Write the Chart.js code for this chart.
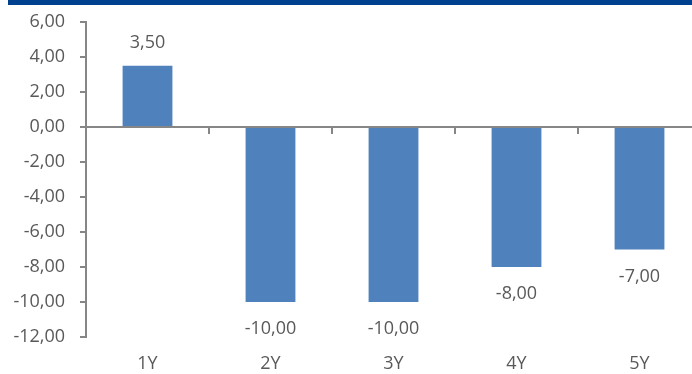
<!DOCTYPE html>
<html>
<head>
<meta charset="utf-8">
<script src="https://cdn.jsdelivr.net/npm/chart.js@4.4.0/dist/chart.umd.min.js"></script>
<style>
  html, body { margin: 0; padding: 0; background: #fff; overflow: hidden; }
  body { width: 692px; height: 374px; position: relative; }
  #wrap { position: absolute; left: 0; top: 0; width: 702px; height: 374px; }
  #banner { position: absolute; left: 8px; top: 0; width: 684px; height: 5px; background: #00418f; z-index: 2; }
</style>
</head>
<body>
<div id="banner"></div>
<div id="wrap"><canvas id="barChart"></canvas></div>
<script>
const categories = ["1Y", "2Y", "3Y", "4Y", "5Y"];
const values = [3.5, -10, -10, -8, -7];
const yMin = -12;
const yMax = 6;
const yStep = 2;

const gray = "#595959";
const axisGray = "#868686";
const fontFamily = "'Open Sans', sans-serif";
const fontSize = 18;

function fmt(v) {
  return v.toFixed(2).replace(".", ",");
}

// value labels above / below each bar
const valueLabels = {
  id: "valueLabels",
  afterDatasetsDraw(chart) {
    const ctx = chart.ctx;
    const meta = chart.getDatasetMeta(0);
    ctx.save();
    ctx.font = fontSize + "px " + fontFamily;
    ctx.fillStyle = gray;
    ctx.textAlign = "center";
    ctx.textBaseline = "middle";
    meta.data.forEach((bar, i) => {
      const v = values[i];
      const y = v >= 0 ? bar.y - 23 : bar.y + 27;
      ctx.fillText(fmt(v), bar.x, y);
    });
    ctx.restore();
  },
};

const ctx = document.getElementById("barChart").getContext("2d");
new Chart(ctx, {
  type: "bar",
  data: {
    labels: categories,
    datasets: [
      {
        data: values,
        backgroundColor: "#4f81bd",
        barPercentage: 1,
        categoryPercentage: 0.405,
      },
    ],
  },
  options: {
    responsive: true,
    maintainAspectRatio: false,
    animation: false,
    layout: { padding: { top: 22, right: 1, left: 0, bottom: 0 } },
    plugins: {
      legend: { display: false },
      tooltip: { enabled: false },
    },
    scales: {
      x: {
        type: "category",
        offset: true,
        grid: { display: false, offset: true },
        border: { display: false },
        ticks: {
          color: gray,
          font: { family: fontFamily, size: fontSize },
          padding: 8,
          maxRotation: 0,
        },
        afterFit(scale) {
          scale.height = 37;
        },
      },
      x2: {
        type: "category",
        labels: categories,
        position: { y: 0 },
        offset: true,
        grid: {
          offset: true,
          drawOnChartArea: false,
          tickLength: 6,
          color: axisGray,
          lineWidth: 2,
        },
        border: { color: axisGray, width: 2 },
        ticks: { display: false },
      },
      y: {
        min: yMin,
        max: yMax,
        grid: {
          drawOnChartArea: false,
          tickLength: 6,
          color: axisGray,
          lineWidth: 2,
        },
        border: { color: axisGray, width: 2 },
        ticks: {
          stepSize: yStep,
          color: gray,
          padding: 15,
          font: { family: fontFamily, size: fontSize },
          callback: (v) => fmt(v),
        },
        afterFit(scale) {
          scale.width = 86;
          scale.paddingTop = 0;
          scale.paddingBottom = 0;
        },
      },
    },
  },
  plugins: [valueLabels],
});
</script>
</body>
</html>
